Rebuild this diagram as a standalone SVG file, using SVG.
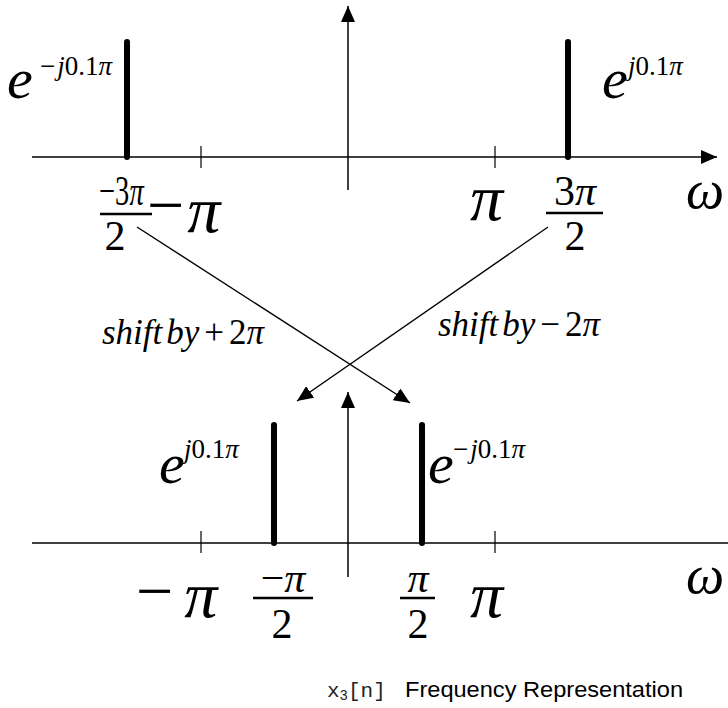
<svg xmlns="http://www.w3.org/2000/svg" width="728" height="708" viewBox="0 0 728 708">
<style>
.ax{stroke:#000;stroke-width:1.5;fill:none}
.tk{stroke:#000;stroke-width:1.2}
.imp{stroke:#000;stroke-width:6;stroke-linecap:round}
.bar{stroke:#000;stroke-width:2.6}
.conn{stroke:#000;stroke-width:1.4;fill:none}
.m{font-family:"Liberation Serif","Times New Roman",serif;fill:#000}
.i{font-style:italic}
.n{font-style:normal}
.big{font-size:58px}
.om{font-size:54px}
.pi{font-size:66px}
.sup{font-size:27px}
.frac{font-size:42px}
.sh{font-size:35px}
</style>
<defs>
<marker id="ah" viewBox="0 0 16 14" refX="16" refY="7" markerWidth="16" markerHeight="14" markerUnits="userSpaceOnUse" orient="auto">
<path d="M0,0 L16,7 L0,14 z" fill="#000"/>
</marker>
</defs>

<g id="top-axes">
<line class="ax" x1="32" y1="157" x2="717" y2="157" marker-end="url(#ah)"/>
<line class="ax" x1="348" y1="190" x2="348" y2="6" marker-end="url(#ah)"/>
<line class="tk" x1="201" y1="146" x2="201" y2="168"/>
<line class="tk" x1="495" y1="146" x2="495" y2="168"/>
</g>

<g id="top-impulses">
<line class="imp" x1="127" y1="42" x2="127" y2="157"/>
<line class="imp" x1="568" y1="42" x2="568" y2="157"/>
</g>

<g id="top-labels">
<text class="m i big" x="7" y="98">e</text>
<text class="m sup" x="40" y="75">−<tspan class="i" dx="2">j</tspan>0.1<tspan class="i">π</tspan></text>
<text class="m i big" x="602" y="98">e</text>
<text class="m sup" x="628" y="75"><tspan class="i">j</tspan>0.1<tspan class="i">π</tspan></text>
<text class="m frac" transform="translate(99,205) scale(0.68,1)" x="0" y="0">−3<tspan class="i">π</tspan></text>
<line class="bar" x1="100" y1="214" x2="152" y2="214"/>
<text class="m frac" x="115" y="250" text-anchor="middle">2</text>
<text class="m pi" x="147" y="227">−<tspan class="i" dx="3" dy="5">π</tspan></text>
<text class="m i pi" x="470" y="220">π</text>
<text class="m frac" x="575" y="205" text-anchor="middle">3<tspan class="i">π</tspan></text>
<line class="bar" x1="546" y1="213" x2="603" y2="213"/>
<text class="m frac" x="575" y="250" text-anchor="middle">2</text>
<text class="m i om" x="686" y="208">ω</text>
</g>

<g id="shift-labels">
<text class="m i sh" x="102" y="344">shift<tspan dx="4">by</tspan><tspan class="n" dx="5">+</tspan><tspan class="n" dx="5">2</tspan><tspan>π</tspan></text>
<text class="m i sh" x="438" y="336">shift<tspan dx="4">by</tspan><tspan class="n" dx="5">−</tspan><tspan class="n" dx="5">2</tspan><tspan>π</tspan></text>
</g>

<g id="connectors">
<line class="conn" x1="137" y1="227" x2="410" y2="403" marker-end="url(#ah)"/>
<line class="conn" x1="548" y1="227" x2="297" y2="401" marker-end="url(#ah)"/>
</g>

<g id="bottom-axes">
<line class="ax" x1="32" y1="543" x2="728" y2="543"/>
<line class="ax" x1="348" y1="577" x2="348" y2="392" marker-end="url(#ah)"/>
<line class="tk" x1="201" y1="531" x2="201" y2="553"/>
<line class="tk" x1="495" y1="531" x2="495" y2="553"/>
</g>

<g id="bottom-impulses">
<line class="imp" x1="274" y1="425" x2="274" y2="543"/>
<line class="imp" x1="422" y1="425" x2="422" y2="543"/>
</g>

<g id="bottom-labels">
<text class="m i big" x="159" y="483">e</text>
<text class="m sup" x="184" y="458"><tspan class="i">j</tspan>0.1<tspan class="i">π</tspan></text>
<text class="m i big" x="428" y="483">e</text>
<text class="m sup" x="453" y="458">−<tspan class="i" dx="2">j</tspan>0.1<tspan class="i">π</tspan></text>
<text class="m pi" x="136" y="613">−<tspan class="i" dx="11" dy="4">π</tspan></text>
<text class="m frac" x="283" y="592" text-anchor="middle">−<tspan class="i">π</tspan></text>
<line class="bar" x1="253" y1="598" x2="313" y2="598"/>
<text class="m frac" x="282" y="638" text-anchor="middle">2</text>
<text class="m frac i" x="418" y="592" text-anchor="middle">π</text>
<line class="bar" x1="400" y1="598" x2="435" y2="598"/>
<text class="m frac" x="418" y="638" text-anchor="middle">2</text>
<text class="m i pi" x="470" y="617">π</text>
<text class="m i om" x="686" y="593">ω</text>
</g>

<g id="caption">
<text x="327" y="697" font-family="'Liberation Mono','Courier New',monospace" font-size="21" fill="#222">x<tspan font-size="14" dy="3">3</tspan><tspan dy="-3">[n]</tspan></text>
<text x="405" y="697" font-family="'Liberation Sans',Arial,sans-serif" font-size="22" fill="#000" textLength="278" lengthAdjust="spacingAndGlyphs">Frequency Representation</text>
</g>
</svg>
